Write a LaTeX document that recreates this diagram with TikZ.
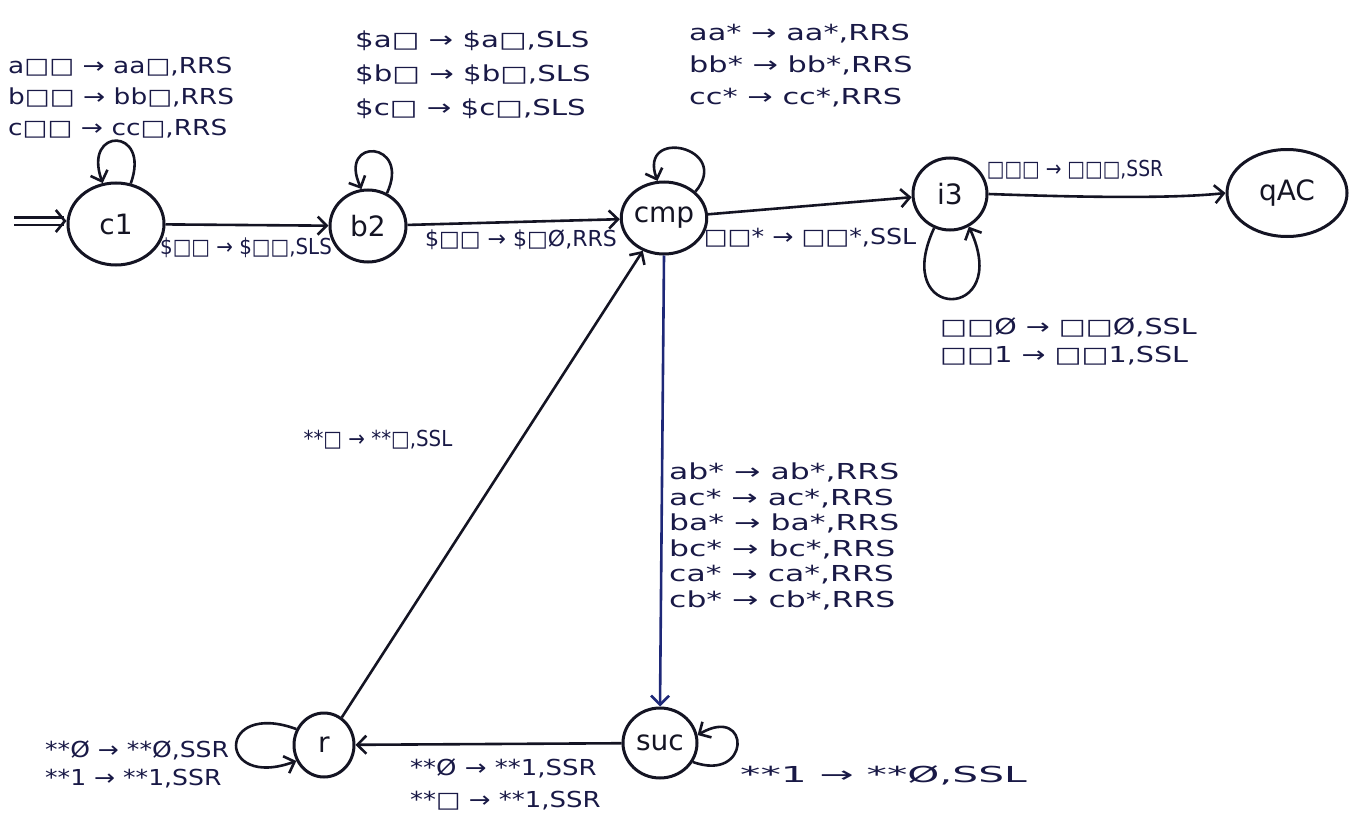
\documentclass[tikz,border=0pt]{standalone}
\usepackage{fontspec}
\setmainfont{DejaVu Sans}
\usetikzlibrary{arrows.meta,shapes.geometric}
\definecolor{ink}{RGB}{20,20,35}
\definecolor{tink}{RGB}{25,25,70}
\definecolor{bink}{RGB}{30,40,120}
\tikzset{
  st/.style={draw=ink, line width=3pt, ellipse, inner sep=0pt, font=\fontsize{28}{30}\selectfont, text=ink},
  tr/.style={draw=ink, line width=2.6pt, -{Straight Barb[length=9pt,width=18pt,line width=2.6pt]}},
  btr/.style={tr, draw=bink},
  lbl/.style 2 args={font={\fontspec[FakeStretch=#1]{DejaVu Sans}\fontsize{22}{#2}\selectfont}, text=tink, inner sep=0pt, align=left},
}
\begin{document}
\begin{tikzpicture}[x=1pt,y=-1pt]
\useasboundingbox (0,0) rectangle (1352,816);
% states
\node[st, minimum width=96pt, minimum height=82pt] (c1) at (116,224) {c1};
\node[st, minimum width=76pt, minimum height=72pt] (b2) at (368,226) {b2};
\node[st, minimum width=66pt, minimum height=72pt] (cmp) at (664,218) {cmp};
\node[st, minimum width=74pt, minimum height=72pt] (i3) at (950,194) {i3};
\node[st, minimum width=120pt, minimum height=87pt] (qac) at (1287,193) {qAC};
\node[st, minimum width=74pt, minimum height=70pt] (suc) at (660,743) {suc};
\node[st, minimum width=60pt, minimum height=64pt] (r) at (324,745) {r};
\coordinate (start) at (14,221);
% initial
\draw[draw=ink, line width=2.6pt, double distance=5pt, -{Straight Barb[length=9pt,width=22pt,line width=2.6pt]}] (start) -- (c1.west|-start);
% transitions
\draw[tr] (c1) -- (b2);
\draw[tr] (b2) -- (cmp);
\draw[tr] (cmp) -- (i3);
\draw[tr] (i3.east) .. controls (1100,198) and (1180,198) .. (qac.west);
\draw[btr] (cmp.south) -- (suc.north);
\draw[tr] (suc) -- (r);
\draw[tr] (r) -- (cmp);
% loops
\draw[tr] (c1.70) to[out=70,in=110,distance=60pt] (c1.108);
\draw[tr] (b2.60) to[out=65,in=115,distance=58pt] (b2.100);
\draw[tr] (cmp.40) to[out=50,in=110,distance=58pt] (cmp.100);
\draw[tr] (i3.245) to[out=245,in=295,distance=105pt] (i3.300);
\draw[tr] (suc.-30) to[out=-20,in=30,distance=62pt] (suc.12);
\draw[tr] (r.150) to[out=160,in=200,distance=85pt] (r.210);
% labels
\node[lbl={1.2}{31}, anchor=north west] (l1) at (8,57) {a□□ → aa□,RRS\\b□□ → bb□,RRS\\c□□ → cc□,RRS};
\node[lbl={1.33}{34}, anchor=north west] (l2) at (355,31) {\$a□ → \$a□,SLS\\\$b□ → \$b□,SLS\\\$c□ → \$c□,SLS};
\node[lbl={1.38}{32}, anchor=north west] (l3) at (689,24) {aa* → aa*,RRS\\bb* → bb*,RRS\\cc* → cc*,RRS};
\node[lbl={0.9}{30}] (l4) at (246,248) {\$□□ → \$□□,SLS};
\node[lbl={1}{30}] (l5) at (521,240) {\$□□ → \$□Ø,RRS};
\node[lbl={1.15}{30}] (l6) at (810,238) {□□* → □□*,SSL};
\node[lbl={0.85}{30}] (l7) at (1075,170) {□□□ → □□□,SSR};
\node[lbl={1.3}{28}, anchor=north west] (l8) at (940,318) {□□Ø → □□Ø,SSL\\□□1 → □□1,SSL};
\node[lbl={1.43}{25.5}, anchor=north west] (l9) at (669,463) {ab* → ab*,RRS\\ac* → ac*,RRS\\ba* → ba*,RRS\\bc* → bc*,RRS\\ca* → ca*,RRS\\cb* → cb*,RRS};
\node[lbl={1.85}{30}, anchor=west] (l10) at (740,775) {**1 → **Ø,SSL};
\node[lbl={1.18}{32}, anchor=north west] (l11) at (410,759) {**Ø → **1,SSR\\**□ → **1,SSR};
\node[lbl={1.14}{28}, anchor=north west] (l12) at (45,741) {**Ø → **Ø,SSR\\**1 → **1,SSR};
\node[lbl={0.9}{30}] (l13) at (378,440) {**□ → **□,SSL};
\end{tikzpicture}
\end{document}
